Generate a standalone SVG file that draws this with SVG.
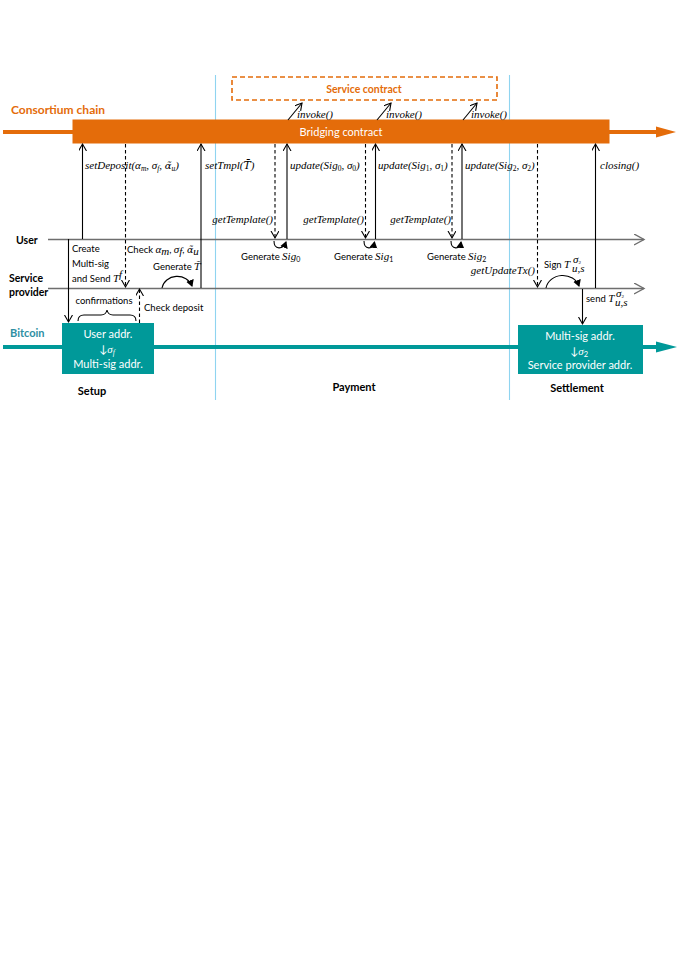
<svg xmlns="http://www.w3.org/2000/svg" width="677" height="975" viewBox="0 0 677 975">
<style>
.sans{font-family:Lato,"Open Sans","Liberation Sans",sans-serif;}
.b{font-weight:bold;}
.it{font-family:"Liberation Serif","DejaVu Serif",serif;font-style:italic;font-size:11px;fill:#000;}
.dj{font-family:"DejaVu Serif",serif;font-style:italic;}
.sm{font-family:Lato,"Open Sans","Liberation Sans",sans-serif;font-size:9.5px;fill:#000;}
.ln{stroke:#000;stroke-width:1.1;fill:none;}
.dash{stroke-dasharray:3.5,2.5;}
.tl{stroke:#6e6e6e;stroke-width:1.6;fill:none;}
.sep{stroke:#8fd4f0;stroke-width:1.1;}
.wt{fill:#fff;font-size:11px;text-anchor:middle;}
.wi{fill:#fff;font-family:"Liberation Serif","DejaVu Serif",serif;font-style:italic;}
</style>
<defs>
<marker id="open" markerUnits="userSpaceOnUse" markerWidth="12" markerHeight="12" refX="7" refY="4" orient="auto">
<path d="M0,0 L7,4 L0,8" fill="none" stroke="#000" stroke-width="1.1"/>
</marker>
<marker id="openg" markerUnits="userSpaceOnUse" markerWidth="16" markerHeight="14" refX="10" refY="5.5" orient="auto">
<path d="M0,0 L10,5.5 L0,11" fill="none" stroke="#6e6e6e" stroke-width="1.4"/>
</marker>
<marker id="fill" markerUnits="userSpaceOnUse" markerWidth="10" markerHeight="10" refX="6" refY="4" orient="auto">
<path d="M0,0 L7,4 L0,8 Z" fill="#000"/>
</marker>
</defs>

<g id="separators">
<line class="sep" x1="215.5" y1="75" x2="215.5" y2="400"/>
<line class="sep" x1="509.5" y1="75" x2="509.5" y2="400"/>
</g>

<g id="consortium">
<text class="sans b" x="11" y="114" font-size="12" fill="#E46C0A">Consortium chain</text>
<rect x="3" y="130" width="70" height="4" fill="#E46C0A"/>
<rect x="609" y="130" width="50" height="4" fill="#E46C0A"/>
<path d="M656,126.5 L676,132 L656,137.5 Z" fill="#E46C0A"/>
</g>
<g id="bridging">
<rect x="72.5" y="119.5" width="537" height="24" fill="#E46C0A"/>
<text class="sans wt" x="341" y="135.5" font-size="11.5">Bridging contract</text>
</g>
<g id="service-contract">
<rect x="232" y="77" width="265" height="23" fill="none" stroke="#E46C0A" stroke-width="1.6" stroke-dasharray="5,3"/>
<text class="sans b" x="364" y="93" font-size="10.5" fill="#E46C0A" text-anchor="middle">Service contract</text>
</g>

<g id="user">
<text class="sans b" x="16" y="244" font-size="10.5">User</text>
<line class="tl" x1="48" y1="239.5" x2="644" y2="239.5" marker-end="url(#openg)"/>
</g>
<g id="provider">
<text class="sans b" x="9" y="282" font-size="10.5">Service</text>
<text class="sans b" x="9" y="296" font-size="10.5">provider</text>
<line class="tl" x1="48" y1="288.5" x2="644" y2="288.5" marker-end="url(#openg)"/>
</g>

<g id="bitcoin">
<text class="sans b" x="10" y="337" font-size="11" fill="#2E8FA3">Bitcoin</text>
<rect x="3" y="345" width="655" height="4" fill="#009999"/>
<path d="M656,341.5 L677,347 L656,352.5 Z" fill="#009999"/>
</g>
<g id="user-addr">
<rect x="62" y="323" width="92" height="51" fill="#009999"/>
<text class="sans wt" x="108" y="338" font-size="10">User addr.</text>
<text class="sans wt" x="107" y="353" font-size="10">↓<tspan class="wi" font-size="11">σ</tspan><tspan class="wi" font-size="7.5" dy="2">f</tspan></text>
<text class="sans wt" x="108" y="368" font-size="10">Multi-sig addr.</text>
</g>
<g id="settle-addr">
<rect x="518" y="325" width="125" height="49" fill="#009999"/>
<text class="sans wt" x="580" y="340" font-size="10">Multi-sig addr.</text>
<text class="sans wt" x="579" y="355" font-size="10">↓<tspan class="wi" font-size="11">σ</tspan><tspan font-size="7.5" dy="2">2</tspan></text>
<text class="sans wt" x="580" y="369" font-size="10">Service provider addr.</text>
</g>

<g id="phases">
<text class="sans b" x="92" y="395" font-size="11" text-anchor="middle">Setup</text>
<text class="sans b" x="354" y="391" font-size="11" text-anchor="middle">Payment</text>
<text class="sans b" x="577" y="392" font-size="11" text-anchor="middle">Settlement</text>
</g>

<g id="connectors">
<line class="ln" x1="82.5" y1="239" x2="82.5" y2="144" marker-end="url(#open)"/>
<line class="ln dash" x1="125.5" y1="144" x2="125.5" y2="287" marker-end="url(#open)"/>
<line class="ln" x1="201" y1="288" x2="201" y2="144" marker-end="url(#open)"/>
<line class="ln dash" x1="275" y1="144" x2="275" y2="238" marker-end="url(#open)"/>
<line class="ln" x1="287" y1="239" x2="287" y2="144" marker-end="url(#open)"/>
<line class="ln dash" x1="365.5" y1="144" x2="365.5" y2="238" marker-end="url(#open)"/>
<line class="ln" x1="375.5" y1="239" x2="375.5" y2="144" marker-end="url(#open)"/>
<line class="ln dash" x1="452" y1="144" x2="452" y2="238" marker-end="url(#open)"/>
<line class="ln" x1="462" y1="239" x2="462" y2="144" marker-end="url(#open)"/>
<line class="ln dash" x1="537.5" y1="144" x2="537.5" y2="287" marker-end="url(#open)"/>
<line class="ln" x1="595.5" y1="288" x2="595.5" y2="144" marker-end="url(#open)"/>
<line class="ln" x1="68.5" y1="239" x2="68.5" y2="322" marker-end="url(#open)"/>
<line class="ln dash" x1="139.5" y1="323" x2="139.5" y2="289" marker-end="url(#open)"/>
<line class="ln" x1="582.5" y1="289" x2="582.5" y2="324" marker-end="url(#open)"/>
<line class="ln" x1="288" y1="120" x2="302" y2="103" marker-end="url(#open)"/>
<line class="ln" x1="377" y1="120" x2="391" y2="103" marker-end="url(#open)"/>
<line class="ln" x1="463" y1="120" x2="477" y2="103" marker-end="url(#open)"/>
<path class="ln" d="M162,288 A15.5,14 0 0 1 192,286" marker-end="url(#fill)"/>
<path class="ln" d="M546,288 A17,15 0 0 1 579,286" marker-end="url(#fill)"/>
<path class="ln" d="M274,241 C274,250 283,250 286,242" marker-end="url(#fill)"/>
<path class="ln" d="M364,241 C364,250 373,250 374.5,242" marker-end="url(#fill)"/>
<path class="ln" d="M451,241 C451,250 460,250 461,242" marker-end="url(#fill)"/>
<path class="ln" d="M78,321 Q78,315 84,315 L101,315 Q106,315 107,310 Q108,315 113,315 L130,315 Q136,315 136,321"/>
</g>

<g id="labels">
<text class="it" x="297" y="118" font-size="10.5">invoke()</text>
<text class="it" x="386" y="118" font-size="10.5">invoke()</text>
<text class="it" x="471" y="118" font-size="10.5">invoke()</text>
<text class="it" x="85" y="169">setDeposit(α<tspan font-size="7.5" dy="2">m</tspan><tspan dy="-2">, σ</tspan><tspan font-size="7.5" dy="2">f</tspan><tspan dy="-2">, </tspan><tspan class="dj" font-size="10">α̃</tspan><tspan font-size="7.5" dy="2">u</tspan><tspan dy="-2">)</tspan></text>
<text class="it" x="205" y="169" font-size="12">setTmpl(<tspan class="dj" font-size="11">T̄</tspan>)</text>
<text class="it" x="290" y="169">update(Sig<tspan font-size="7.5" dy="2" font-style="normal">0</tspan><tspan dy="-2">, σ</tspan><tspan font-size="7.5" dy="2" font-style="normal">0</tspan><tspan dy="-2">)</tspan></text>
<text class="it" x="378" y="169">update(Sig<tspan font-size="7.5" dy="2" font-style="normal">1</tspan><tspan dy="-2">, σ</tspan><tspan font-size="7.5" dy="2" font-style="normal">1</tspan><tspan dy="-2">)</tspan></text>
<text class="it" x="465" y="169">update(Sig<tspan font-size="7.5" dy="2" font-style="normal">2</tspan><tspan dy="-2">, σ</tspan><tspan font-size="7.5" dy="2" font-style="normal">2</tspan><tspan dy="-2">)</tspan></text>
<text class="it" x="600" y="169">closing()</text>
<text class="it" x="273" y="223" font-size="9.5" text-anchor="end">getTemplate()</text>
<text class="it" x="364" y="223" font-size="9.5" text-anchor="end">getTemplate()</text>
<text class="it" x="451" y="223" font-size="9.5" text-anchor="end">getTemplate()</text>
<text class="it" x="535" y="274" font-size="9.5" text-anchor="end">getUpdateTx()</text>
<text class="sm" x="241" y="260">Generate <tspan class="it" font-size="10.5">Sig</tspan><tspan font-size="7" dy="2">0</tspan></text>
<text class="sm" x="334" y="260">Generate <tspan class="it" font-size="10.5">Sig</tspan><tspan font-size="7" dy="2">1</tspan></text>
<text class="sm" x="427" y="260">Generate <tspan class="it" font-size="10.5">Sig</tspan><tspan font-size="7" dy="2">2</tspan></text>
<text class="sm" x="72" y="252">Create</text>
<text class="sm" x="72" y="267">Multi-sig</text>
<text class="sm" x="72" y="282">and Send <tspan class="it" font-size="10.5">T</tspan><tspan class="it" font-size="7" dy="-4">f</tspan></text>
<text class="sm" x="127" y="253">Check <tspan class="it" font-size="10.5">α</tspan><tspan class="it" font-size="7" dy="2">m</tspan><tspan dy="-2">, </tspan><tspan class="it" font-size="10.5">σ</tspan><tspan class="it" font-size="7" dy="2">f</tspan><tspan dy="-2">, </tspan><tspan class="dj" font-size="9.5">α̃</tspan><tspan class="it" font-size="7" dy="2">u</tspan></text>
<text class="sm" x="153" y="270">Generate <tspan class="dj" font-size="10">T̃</tspan></text>
<text class="sm" x="104" y="304" text-anchor="middle">confirmations</text>
<text class="sm" x="144" y="311">Check deposit</text>
<text class="sm" x="544" y="268">Sign <tspan class="it" font-size="10.5">T</tspan></text>
<text class="it" x="573" y="263" font-size="6.5">σ<tspan font-size="5" font-style="normal" dy="1">2</tspan></text>
<text class="it" x="572" y="272" font-size="6">u,s</text>
<text class="sm" x="586" y="302">send <tspan class="it" font-size="10.5">T</tspan></text>
<text class="it" x="616" y="297" font-size="6.5">σ<tspan font-size="5" font-style="normal" dy="1">2</tspan></text>
<text class="it" x="615" y="306" font-size="6">u,s</text>
</g>
</svg>
